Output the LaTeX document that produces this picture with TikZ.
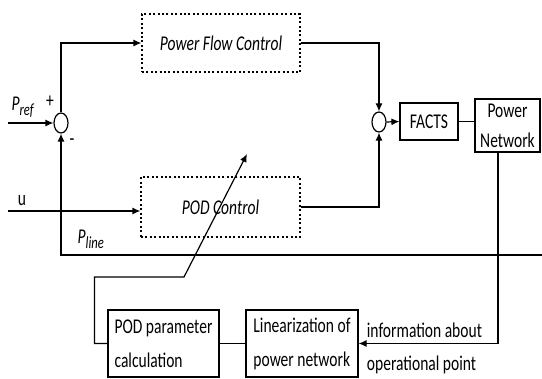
\documentclass[tikz,border=0pt]{standalone}
\usepackage{fontspec}
\setmainfont{Carlito}[FakeStretch=0.74]
\usetikzlibrary{arrows.meta,shapes.geometric,calc}

\begin{document}
\begin{tikzpicture}[x=1pt,y=-1pt,line width=1.2pt,>={Latex[length=8pt,width=7pt]},
		every node/.style={font=\fontsize{21}{24}\selectfont},
		blk/.style={draw,rectangle,inner sep=0pt,align=center},
		ctrl/.style={blk,dash pattern=on 2pt off 2.4pt,font=\fontsize{21}{24}\selectfont\itshape},
		sumpt/.style={draw,ellipse,minimum width=14pt,minimum height=20pt,inner sep=0pt}]
				\useasboundingbox (0,0) rectangle (542,379);
				% blocks
				\node[ctrl,minimum width=158pt,minimum height=58pt] (pfc) at (221,43) {Power Flow Control};
				\node[ctrl,minimum width=159pt,minimum height=60pt] (pod) at (220.5,207) {POD Control};
				\node[sumpt] (sum1) at (61,123) {};
				\node[sumpt] (sum2) at (379,122) {};
				\node[blk,minimum width=58pt,minimum height=37pt] (facts) at (429,121.5) {FACTS};
				\node[blk,minimum width=65pt,minimum height=53pt,font=\fontsize{21}{30}\selectfont] (pn) at (507.5,125.5) {Power\\Network};
				\node[blk,minimum width=111pt,minimum height=67pt,align=left,font=\fontsize{21}{34}\selectfont] (podpar) at (163.5,343.5) {POD parameter\\calculation};
				\node[blk,minimum width=112pt,minimum height=67pt,align=left,font=\fontsize{21}{34}\selectfont] (lin) at (302,343.5) {Linearization of\\power network};
				% labels
				\node[anchor=west] (info1) at (363,330) {information about};
				\node[anchor=west] (info2) at (363,365) {operational point};
				\node (plus) at (50,102) {+};
				\node (minus) at (72,142) {-};
				\node[anchor=west,inner sep=0pt] (pref) at (11,107) {\textit{P}\raisebox{-5pt}{\fontsize{17}{17}\selectfont\textit{ref}}};
				\node (ulab) at (22,201) {u};
				\node[anchor=west,inner sep=0pt] (pline) at (77,239) {\textit{P}\raisebox{-5pt}{\fontsize{17}{17}\selectfont\textit{line}}};
				\coordinate (prefin) at (8,123);
				\coordinate (uin) at (8,211);
				\coordinate (lineend) at (542,255);
				\coordinate (knee) at (184,277);
				\coordinate (tip) at (247,154);
				% connections
				\draw[->] (prefin) -- (sum1.west);
				\draw[->] (uin) -- (uin -| pod.west);
				\draw[->] (sum1.north) |- (pfc.west);
				\draw[->] (lineend) -| (sum1.south);
				\draw[->] (pfc.east) -| (sum2.north);
				\draw[->] (pod.east) -| (sum2.south);
				\draw[->] (sum2.east) -- (facts.west);
				\draw (facts.east) -- (facts.east -| pn.west);
				\draw[->] ([xshift=-9.5pt]pn.south) |- (lin.east);
				\draw (podpar.east) -- (lin.west);
				\draw[->] (podpar.west) -- ++(-13,0) |- (knee) -- (tip);
\end{tikzpicture}
\end{document}
